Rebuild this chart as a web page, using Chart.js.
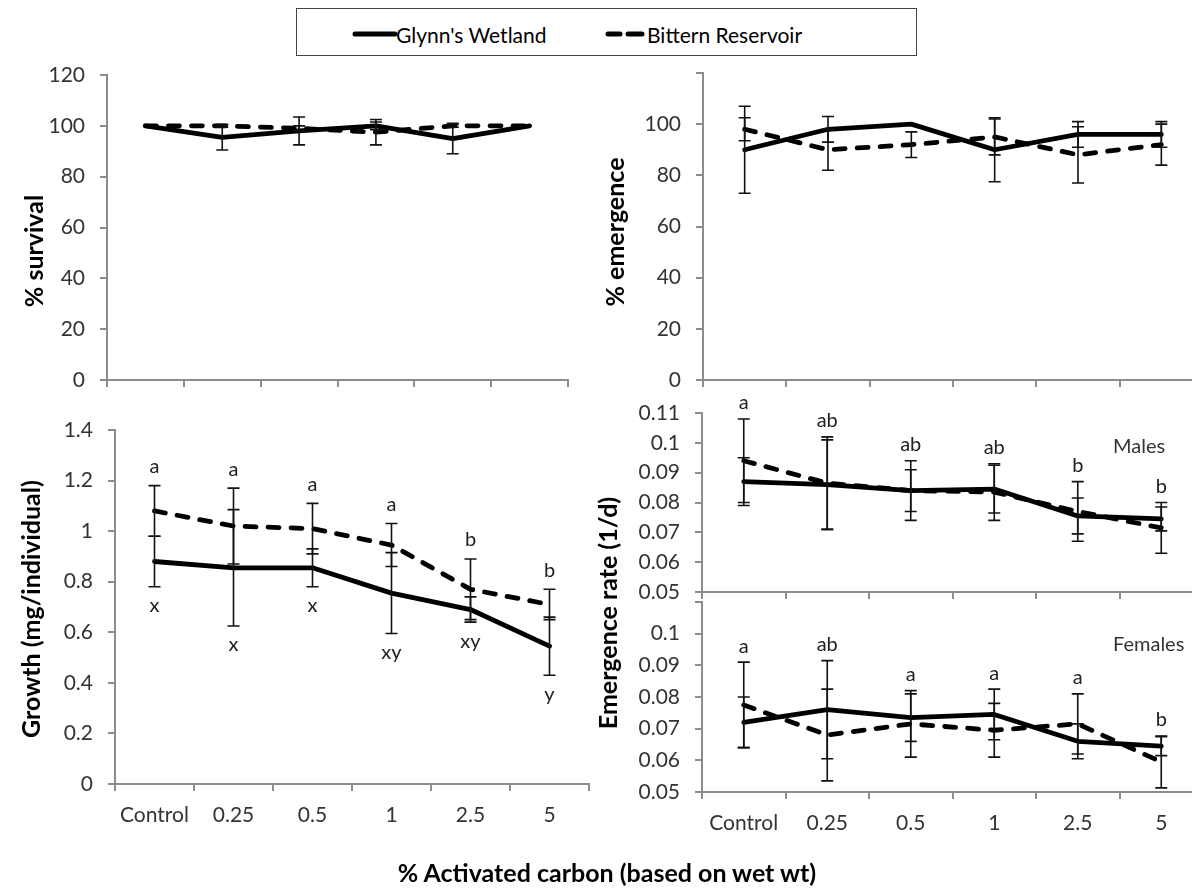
<!DOCTYPE html>
<html><head><meta charset="utf-8">
<script src="https://cdn.jsdelivr.net/npm/chart.js@4.4.1/dist/chart.umd.min.js"></script>
<style>
html,body{margin:0;padding:0;width:1192px;height:890px;overflow:hidden;background:#fff;font-family:Lato, "Open Sans", sans-serif;}
canvas{position:absolute;left:0;top:0;}
.t{position:absolute;white-space:nowrap;color:#000;line-height:1;}
.yt{font-weight:bold;font-size:25px;transform:translate(-50%,-50%) rotate(-90deg);}
.xt{font-weight:bold;font-size:25px;transform:translate(-50%,-50%);}
.note{font-size:20px;color:#333;transform:translateY(-50%);}
#legend{position:absolute;left:296px;top:8px;width:621px;height:48px;border:1.5px solid #444;box-sizing:border-box;background:#fff;}
.lg{position:absolute;font-size:21px;color:#000;line-height:1;transform:translateY(-50%);white-space:nowrap;}
</style>
</head><body>
<canvas id="c1" width="1215" height="890"></canvas>
<canvas id="c2" width="1215" height="890"></canvas>
<canvas id="c3" width="1215" height="890"></canvas>
<canvas id="c4" width="1215" height="890"></canvas>
<canvas id="c5" width="1215" height="890"></canvas>

<div id="legend">
  <svg style="position:absolute;left:55px;top:18px" width="48" height="14"><line x1="3" y1="7" x2="43" y2="7" stroke="#000" stroke-width="5" stroke-linecap="round"/></svg>
  <div class="lg" style="left:99px;top:25px">Glynn's Wetland</div>
  <svg style="position:absolute;left:307px;top:18px" width="48" height="14"><line x1="4" y1="7" x2="16" y2="7" stroke="#000" stroke-width="5" stroke-linecap="round"/><line x1="24" y1="7" x2="38" y2="7" stroke="#000" stroke-width="5" stroke-linecap="round"/></svg>
  <div class="lg" style="left:350px;top:25px">Bittern Reservoir</div>
</div>

<div class="t yt" style="left:33px;top:251px">% survival</div>
<div class="t yt" style="left:614px;top:232px">% emergence</div>
<div class="t yt" style="left:30px;top:609px">Growth (mg/individual)</div>
<div class="t yt" style="left:607px;top:613px">Emergence rate (1/d)</div>
<div class="t xt" style="left:607px;top:872px">% Activated carbon (based on wet wt)</div>
<div class="t note" style="left:1113px;top:445px">Males</div>
<div class="t note" style="left:1113px;top:643px">Females</div>

<script>
// ---- data ----
const categories = ['Control', '0.25', '0.5', '1', '2.5', '5'];

const survivalGlynn = [100, 95.5, 98, 100, 95, 100];
const survivalGlynnErr = [0, 5, 5.5, 1.5, 6, 0];
const survivalBittern = [100, 100, 99, 97.5, 100, 100];
const survivalBitternErr = [0, 0.5, 1, 5, 0.5, 0];

const emergGlynn = [90, 98, 100, 90, 96, 96];
const emergGlynnErr = [17, 5, 0, 12.5, 5, 5];
const emergBittern = [98, 90, 92, 95, 88, 92];
const emergBitternErr = [4.5, 8, 5, 7, 11, 8];

const growthGlynn = [0.88, 0.855, 0.855, 0.755, 0.69, 0.545];
const growthGlynnErr = [0.10, 0.23, 0.075, 0.16, 0.05, 0.115];
const growthBittern = [1.08, 1.02, 1.01, 0.945, 0.77, 0.71];
const growthBitternErr = [0.10, 0.15, 0.10, 0.085, 0.12, 0.06];
const growthLettersTop = ['a', 'a', 'a', 'a', 'b', 'b'];
const growthLettersBottom = ['x', 'x', 'x', 'xy', 'xy', 'y'];

const malesGlynn = [0.087, 0.086, 0.084, 0.0845, 0.0755, 0.0745];
const malesGlynnErr = [0.008, 0.015, 0.007, 0.008, 0.006, 0.004];
const malesBittern = [0.094, 0.0865, 0.084, 0.0835, 0.077, 0.0715];
const malesBitternErr = [0.014, 0.0155, 0.010, 0.0095, 0.010, 0.0085];
const malesLetters = ['a', 'ab', 'ab', 'ab', 'b', 'b'];

const femalesGlynn = [0.072, 0.076, 0.0735, 0.0745, 0.066, 0.0645];
const femalesGlynnErr = [0.008, 0.0155, 0.0075, 0.008, 0.0055, 0.003];
const femalesBittern = [0.0775, 0.068, 0.0715, 0.0695, 0.0715, 0.0595];
const femalesBitternErr = [0.0135, 0.0145, 0.0105, 0.0085, 0.0095, 0.0082];
const femalesLetters = ['a', 'ab', 'a', 'a', 'a', 'b'];

// ---- styling / layout ----
const CW = 1215, CH = 890, YW = 95;
const AX = '#8c8c8c', TC = '#333';
const FONT = 'Lato, "Open Sans", sans-serif';

const errorBarPlugin = {
  id: 'errbars',
  afterDatasetsDraw(chart) {
    const ctx = chart.ctx, ys = chart.scales.y;
    ctx.save();
    ctx.strokeStyle = '#111'; ctx.lineWidth = 1.6; ctx.setLineDash([]); ctx.lineCap = 'butt';
    chart.data.datasets.forEach((ds, di) => {
      const meta = chart.getDatasetMeta(di);
      meta.data.forEach((pt, i) => {
        const e = ds.errors[i];
        if (!e) return;
        const x = pt.x;
        const y1 = ys.getPixelForValue(ds.data[i] + e), y2 = ys.getPixelForValue(ds.data[i] - e);
        ctx.beginPath();
        ctx.moveTo(x, y1); ctx.lineTo(x, y2);
        ctx.moveTo(x - 6, y1); ctx.lineTo(x + 6, y1);
        ctx.moveTo(x - 6, y2); ctx.lineTo(x + 6, y2);
        ctx.stroke();
      });
    });
    ctx.restore();
  }
};

function letterPlugin(top, bottom, gap) {
  return {
    id: 'letters',
    afterDatasetsDraw(chart) {
      const ctx = chart.ctx, ys = chart.scales.y;
      ctx.save();
      ctx.fillStyle = '#222'; ctx.font = '20px ' + FONT;
      ctx.textAlign = 'center'; ctx.textBaseline = 'middle';
      categories.forEach((c, i) => {
        let hi = Infinity, lo = -Infinity, x = 0;
        chart.data.datasets.forEach((ds, di) => {
          const pt = chart.getDatasetMeta(di).data[i];
          x = pt.x;
          hi = Math.min(hi, ys.getPixelForValue(ds.data[i] + (ds.errors[i] || 0)));
          lo = Math.max(lo, ys.getPixelForValue(ds.data[i] - (ds.errors[i] || 0)));
        });
        if (top && top[i]) ctx.fillText(top[i], x, hi - gap);
        if (bottom && bottom[i]) ctx.fillText(bottom[i], x, lo + gap);
      });
      ctx.restore();
    }
  };
}

function fmt(v) { return String(parseFloat(v.toFixed(4))); }

function panel(id, area, y, showX, g, gErr, b, bErr, extraPlugins) {
  const xH = showX ? 52 : 10;
  return new Chart(document.getElementById(id), {
    type: 'line',
    data: {
      labels: categories,
      datasets: [
        { label: "Glynn's Wetland", data: g, errors: gErr, borderColor: '#000', borderWidth: 4.8,
          pointRadius: 0, borderCapStyle: 'round', borderJoinStyle: 'round', tension: 0, fill: false },
        { label: 'Bittern Reservoir', data: b, errors: bErr, borderColor: '#000', borderWidth: 4.8,
          borderDash: [11, 12], pointRadius: 0, borderCapStyle: 'round', borderJoinStyle: 'round', tension: 0, fill: false }
      ]
    },
    options: {
      responsive: false, animation: false, events: [],
      layout: { padding: { left: area.left - YW, top: area.top, right: CW - area.right, bottom: CH - area.bottom - xH } },
      plugins: { legend: { display: false }, tooltip: { enabled: false } },
      scales: {
        x: {
          offset: true,
          grid: { offset: true, drawOnChartArea: false, color: AX, lineWidth: 2, tickLength: 7 },
          border: { color: AX, width: 2 },
          ticks: { display: showX, color: TC, font: { family: FONT, size: 21 }, padding: 12, maxRotation: 0, autoSkip: false },
          afterFit: s => { s.height = xH; }
        },
        y: {
          min: y.min, max: y.max,
          grid: { drawOnChartArea: false, color: AX, lineWidth: 2, tickLength: 7 },
          border: { color: AX, width: 2 },
          ticks: { stepSize: y.step, color: TC, font: { family: FONT, size: 21 }, padding: 15,
                   callback: v => (y.hideTop && Math.abs(v - y.max) < 1e-9) ? '' : fmt(v) },
          afterFit: s => { s.width = YW; }
        }
      }
    },
    plugins: [errorBarPlugin].concat(extraPlugins || [])
  });
}

panel('c1', { left: 107, top: 75, right: 568, bottom: 380 }, { min: 0, max: 120, step: 20 }, false,
      survivalGlynn, survivalGlynnErr, survivalBittern, survivalBitternErr);
panel('c2', { left: 703, top: 73, right: 1203, bottom: 380 }, { min: 0, max: 120, step: 20, hideTop: true }, false,
      emergGlynn, emergGlynnErr, emergBittern, emergBitternErr);
panel('c3', { left: 115, top: 430, right: 589, bottom: 784 }, { min: 0, max: 1.4, step: 0.2 }, true,
      growthGlynn, growthGlynnErr, growthBittern, growthBitternErr,
      [letterPlugin(growthLettersTop, growthLettersBottom, 19)]);
panel('c4', { left: 702, top: 413, right: 1203, bottom: 592 }, { min: 0.05, max: 0.11, step: 0.01 }, false,
      malesGlynn, malesGlynnErr, malesBittern, malesBitternErr,
      [letterPlugin(malesLetters, null, 16)]);
panel('c5', { left: 702, top: 602, right: 1203, bottom: 792 }, { min: 0.05, max: 0.11, step: 0.01, hideTop: true }, true,
      femalesGlynn, femalesGlynnErr, femalesBittern, femalesBitternErr,
      [letterPlugin(femalesLetters, null, 16)]);
</script>
</body></html>
